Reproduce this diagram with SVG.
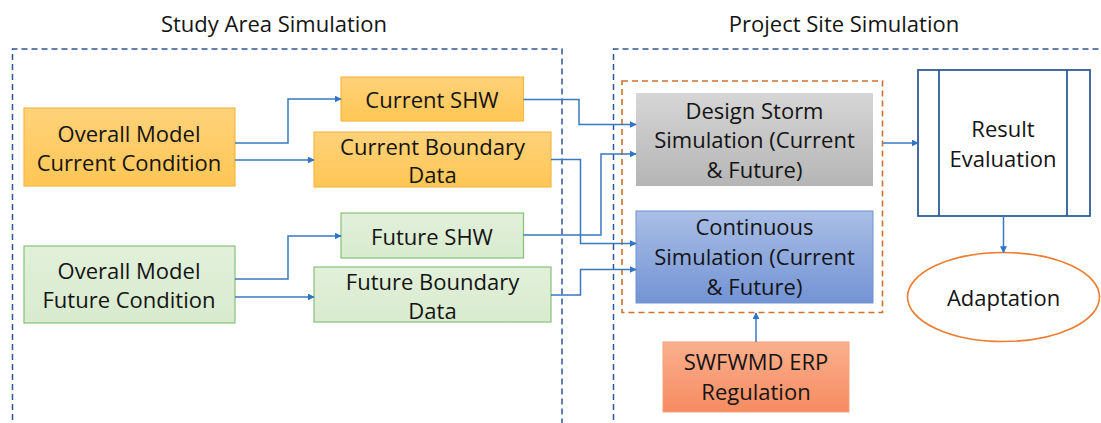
<svg xmlns="http://www.w3.org/2000/svg" width="1101" height="423" viewBox="0 0 1101 423">
<defs>
<linearGradient id="gOr" x1="0" y1="0" x2="0" y2="1"><stop offset="0" stop-color="#FFD27A"/><stop offset="1" stop-color="#FFC654"/></linearGradient>
<linearGradient id="gGr" x1="0" y1="0" x2="0" y2="1"><stop offset="0" stop-color="#E2F0DA"/><stop offset="1" stop-color="#D8EBCE"/></linearGradient>
<linearGradient id="gGy" x1="0" y1="0" x2="0" y2="1"><stop offset="0" stop-color="#D6D6D6"/><stop offset="1" stop-color="#B5B5B5"/></linearGradient>
<linearGradient id="gBl" x1="0" y1="0" x2="0" y2="1"><stop offset="0" stop-color="#AABFE6"/><stop offset="1" stop-color="#7393D4"/></linearGradient>
<linearGradient id="gSa" x1="0" y1="0" x2="0" y2="1"><stop offset="0" stop-color="#FBB08E"/><stop offset="1" stop-color="#F58B60"/></linearGradient>
<marker id="arr" viewBox="0 0 10 10" refX="9" refY="5" markerWidth="7" markerHeight="7" markerUnits="userSpaceOnUse" orient="auto"><path d="M0,0 L10,5 L0,10 z" fill="#2F75C6"/></marker>
<style>
text{font-family:"Open Sans","Liberation Sans",sans-serif;font-size:22px;fill:#141414;text-anchor:middle}
.dash{fill:none;stroke:#2F5597;stroke-width:1.5;stroke-dasharray:6 4}
.odash{fill:none;stroke:#D0712B;stroke-width:1.6;stroke-dasharray:6 4}
.or{fill:url(#gOr);stroke:#F5B844;stroke-width:1.2}
.gr{fill:url(#gGr);stroke:#86C27A;stroke-width:1.2}
.gy{fill:url(#gGy)}
.bl{fill:url(#gBl);stroke:#6F93D3;stroke-width:1}
.sa{fill:url(#gSa);stroke:#F4A27E;stroke-width:1}
.conn path{fill:none;stroke:#3A78C0;stroke-width:1.5;marker-end:url(#arr)}
</style>
</defs>
<rect width="1101" height="423" fill="#FFFFFF"/>
<g id="study-area">
<path class="dash" d="M12.5,430 V49 H562 V430"/>
<text x="274" y="32">Study Area Simulation</text>
</g>
<g id="project-site">
<path class="dash" d="M613.5,430 V49 H1105"/>
<text x="844" y="32">Project Site Simulation</text>
</g>
<g id="simulation-group">
<rect class="odash" x="622" y="81" width="260.5" height="231.5"/>
</g>
<g id="overall-current">
<rect class="or" x="24" y="108" width="211" height="78"/>
<text x="129" y="141.5">Overall Model</text>
<text x="129" y="171">Current Condition</text>
</g>
<g id="current-shw">
<rect class="or" x="341" y="77" width="182.5" height="44"/>
<text x="432" y="108">Current SHW</text>
</g>
<g id="current-boundary">
<rect class="or" x="314" y="132" width="237" height="55"/>
<text x="432.5" y="155">Current Boundary</text>
<text x="432.5" y="183">Data</text>
</g>
<g id="overall-future">
<rect class="gr" x="24" y="246" width="211" height="77"/>
<text x="129" y="278.5">Overall Model</text>
<text x="129" y="307.5">Future Condition</text>
</g>
<g id="future-shw">
<rect class="gr" x="341" y="213" width="182.5" height="45"/>
<text x="432" y="245">Future SHW</text>
</g>
<g id="future-boundary">
<rect class="gr" x="314" y="267" width="237" height="55"/>
<text x="432.5" y="290">Future Boundary</text>
<text x="432.5" y="318.5">Data</text>
</g>
<g id="design-storm">
<rect class="gy" x="636" y="93" width="237" height="93"/>
<text x="754.5" y="118.5">Design Storm</text>
<text x="754.5" y="148">Simulation (Current</text>
<text x="754.5" y="177.5">&amp; Future)</text>
</g>
<g id="continuous">
<rect class="bl" x="636" y="211" width="237" height="92"/>
<text x="754.5" y="235">Continuous</text>
<text x="754.5" y="265">Simulation (Current</text>
<text x="754.5" y="294.5">&amp; Future)</text>
</g>
<g id="result-evaluation">
<rect x="918" y="70" width="172" height="146" fill="#FFFFFF" stroke="#2F5C97" stroke-width="1.8"/>
<line x1="939" y1="70" x2="939" y2="216" stroke="#2F5C97" stroke-width="1.8"/>
<line x1="1067" y1="70" x2="1067" y2="216" stroke="#2F5C97" stroke-width="1.8"/>
<text x="1003" y="137">Result</text>
<text x="1003" y="167">Evaluation</text>
</g>
<g id="adaptation">
<ellipse cx="1003.5" cy="297" rx="96" ry="44.5" fill="#FFFFFF" stroke="#ED7D31" stroke-width="1.6"/>
<text x="1003.5" y="306">Adaptation</text>
</g>
<g id="swfwmd">
<rect class="sa" x="663" y="342" width="186" height="70"/>
<text x="756" y="370">SWFWMD ERP</text>
<text x="756" y="400">Regulation</text>
</g>
<g id="connectors" class="conn">
<path d="M235,143 H288 V99 H341"/>
<path d="M235,160 H314"/>
<path d="M235,279 H288 V236 H341"/>
<path d="M235,297 H314"/>
<path d="M523.5,99.5 H579 V124.5 H636"/>
<path d="M551,159.5 H580.5 V243.5 H636"/>
<path d="M523.5,235 H601 V154 H636"/>
<path d="M551,295 H580.5 V269.5 H636"/>
<path d="M883,143 H918"/>
<path d="M1003.5,216 V252.5"/>
<path d="M756,342 V313"/>
</g>
</svg>
